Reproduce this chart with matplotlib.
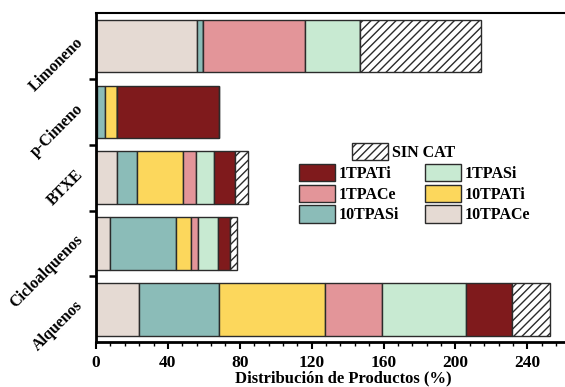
import numpy as np
import matplotlib.pyplot as plt
from matplotlib.ticker import MultipleLocator

categorias = ["Alquenos", "Cicloalquenos", "BTXE", "p-Cimeno", "Limoneno"]
series = ["10TPACe", "10TPASi", "10TPATi", "1TPACe", "1TPASi", "1TPATi", "SIN CAT"]

v_10TPACe = [24.1, 8.0, 11.5, 0.6, 56.3]
v_10TPASi = [44.4, 36.6, 11.1, 4.2, 3.4]
v_10TPATi = [59.1, 8.2, 25.9, 6.9, 0.0]
v_1TPACe = [31.8, 3.9, 6.9, 0.0, 56.5]
v_1TPASi = [46.5, 11.2, 10.2, 0.0, 30.8]
v_1TPATi = [25.4, 6.4, 11.8, 56.6, 0.0]
v_sincat = [21.1, 4.4, 6.9, 0.0, 67.4]

valores = [v_10TPACe, v_10TPASi, v_10TPATi, v_1TPACe, v_1TPASi, v_1TPATi, v_sincat]
colores = ["#e5dad3", "#8bbcb8", "#fcd75c", "#e39599", "#c8ead2", "#7f1a1c", "white"]

SERIF = "Liberation Serif"
plt.rcParams['hatch.linewidth'] = 1.0

fig = plt.figure(figsize=(5.65, 3.87), dpi=100)
ax = fig.add_axes([0.170, 0.116, 0.830, 0.850])

y = np.arange(len(categorias))
izq = np.zeros(len(categorias))
barras = {}
for nombre, vals, col in zip(series, valores, colores):
    vals = np.array(vals)
    b = ax.barh(y, vals, left=izq, height=0.8, color=col, edgecolor="#2b2b2b",
                linewidth=1.0, hatch="////" if nombre == "SIN CAT" else None)
    barras[nombre] = b
    izq = izq + vals

ax.set_xlim(0, 261)
ax.set_ylim(-0.5, len(categorias) - 0.5)

ax.xaxis.set_major_locator(MultipleLocator(40))
ax.xaxis.set_minor_locator(MultipleLocator(8))
ax.tick_params(axis="x", which="major", length=5, width=1.5, direction="out",
               labelsize=12.5, pad=4)
ax.tick_params(axis="x", which="minor", length=3, width=1.0, direction="out")
for t in ax.get_xticklabels():
    t.set_fontfamily(SERIF)
    t.set_fontweight("bold")

ax.set_yticks(np.arange(len(categorias) - 1) + 0.5)
ax.set_yticklabels([])
ax.set_yticks(y, minor=True)
ax.set_yticklabels(categorias, minor=True, rotation=45, ha="right", va="bottom",
                   rotation_mode="anchor", fontfamily=SERIF,
                   fontweight="bold", fontsize=11.5)
ax.tick_params(axis="y", which="major", length=5, width=1.8, direction="out")
ax.tick_params(axis="y", which="minor", length=0, pad=7)

ax.set_xlabel("Distribución de Productos (%)", fontfamily=SERIF,
              fontweight="bold", fontsize=12)
ax.xaxis.set_label_coords(0.527, -0.085)

ax.spines["right"].set_visible(False)
ax.spines["left"].set_linewidth(2.0)
ax.spines["bottom"].set_linewidth(2.0)
ax.spines["top"].set_linewidth(1.5)

fuente = {"family": SERIF, "weight": "bold", "size": 11.5}
leg1 = ax.legend([barras["SIN CAT"]], ["SIN CAT"], loc="upper left",
                 bbox_to_anchor=(352 / 565, 1 - 143 / 387),
                 bbox_transform=fig.transFigure, frameon=False, prop=fuente,
                 handlelength=2.25, handleheight=1.25, borderpad=0,
                 borderaxespad=0, handletextpad=0.25)
ax.add_artist(leg1)
orden = ["1TPATi", "1TPACe", "10TPASi", "1TPASi", "10TPATi", "10TPACe"]
ax.legend([barras[n] for n in orden], orden, ncol=2, loc="upper left",
          bbox_to_anchor=(299 / 565, 1 - 164 / 387),
          bbox_transform=fig.transFigure, frameon=False, prop=fuente,
          handlelength=2.25, handleheight=1.295, borderpad=0, borderaxespad=0,
          labelspacing=0.16, handletextpad=0.25, columnspacing=1.6)

fig.savefig("out.png", dpi=100)
